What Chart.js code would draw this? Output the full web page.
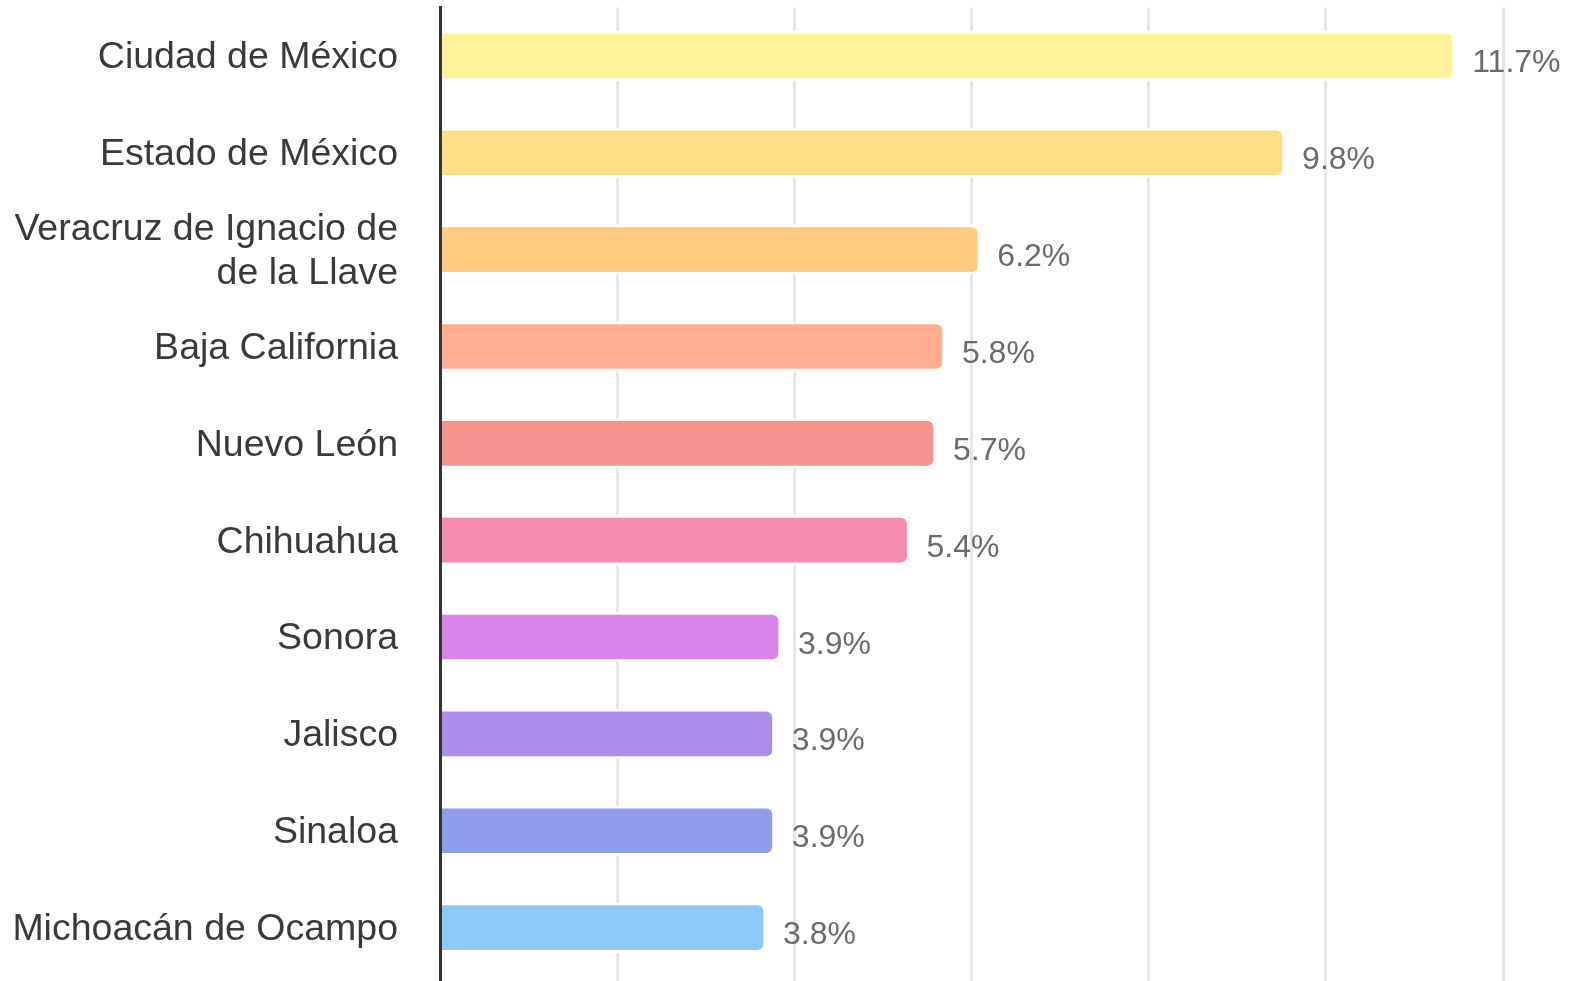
<!DOCTYPE html>
<html>
<head>
<meta charset="utf-8">
<script src="https://cdn.jsdelivr.net/npm/chart.js@4.4.1/dist/chart.umd.min.js"></script>
<style>
  html, body { margin: 0; padding: 0; background: #fff; }
  #wrap { width: 1572px; height: 981px; position: relative; }
</style>
</head>
<body>
<div id="wrap"><canvas id="c"></canvas></div>
<script>
// ---- data ----
const categories = [
  'Ciudad de México',
  'Estado de México',
  ['Veracruz de Ignacio de', 'de la Llave'],
  'Baja California',
  'Nuevo León',
  'Chihuahua',
  'Sonora',
  'Jalisco',
  'Sinaloa',
  'Michoacán de Ocampo'
];
const barValues = [11.46, 9.54, 6.10, 5.70, 5.60, 5.30, 3.85, 3.78, 3.78, 3.68];
const valueLabels = ['11.7%', '9.8%', '6.2%', '5.8%', '5.7%', '5.4%', '3.9%', '3.9%', '3.9%', '3.8%'];
const barColors = ['#FFF39A', '#FFDF85', '#FFCB80', '#FFAC91', '#F5948F', '#F78BAE', '#D883E8', '#AF8EEB', '#8F9EEB', '#8DCAFA'];
const axisMin = 0;
const axisMax = 12;
const axisStep = 2;

const FONT = '"Liberation Sans", Arial, sans-serif';

const valueLabelPlugin = {
  id: 'valueLabels',
  afterDatasetsDraw(chart) {
    const ctx = chart.ctx;
    const meta = chart.getDatasetMeta(0);
    ctx.save();
    ctx.font = '32px ' + FONT;
    ctx.fillStyle = '#6b6b6b';
    ctx.textAlign = 'left';
    ctx.textBaseline = 'alphabetic';
    meta.data.forEach((bar, i) => {
      ctx.fillText(valueLabels[i], bar.x + 17, bar.y + 16.5);
    });
    ctx.restore();
  }
};

new Chart(document.getElementById('c'), {
  type: 'bar',
  data: {
    labels: categories,
    datasets: [{
      data: barValues,
      backgroundColor: barColors,
      borderColor: '#ffffff',
      borderWidth: 3,
      borderSkipped: 'start',
      borderRadius: 9,
      barThickness: 50
    }]
  },
  options: {
    indexAxis: 'y',
    responsive: true,
    maintainAspectRatio: false,
    animation: false,
    layout: { padding: { top: 7.5, right: 69, bottom: 0, left: 0 } },
    plugins: {
      legend: { display: false },
      tooltip: { enabled: false }
    },
    scales: {
      x: {
        min: axisMin,
        max: axisMax,
        ticks: { display: false, stepSize: axisStep },
        grid: {
          color: (c) => (c.tick && c.tick.value === 0) ? '#333333' : '#e6e6e6',
          lineWidth: 3,
          drawTicks: true,
          tickLength: 5,
          tickColor: (c) => (c.tick && c.tick.value === 0) ? '#333333' : '#e6e6e6'
        },
        border: { display: false },
        afterFit: (scale) => { scale.paddingLeft = 0; scale.paddingRight = 0; }
      },
      y: {
        afterFit: (scale) => {
          scale.width = 440;
          scale.paddingTop = 0;
          scale.paddingBottom = 0;
        },
        ticks: {
          color: '#3a3a3a',
          padding: 42,
          labelOffset: 2,
          font: { family: FONT, size: 37.5, lineHeight: 1.17 },
          autoSkip: false
        },
        grid: { display: false, drawTicks: false, tickLength: 0 },
        border: { display: true, color: '#333333', width: 3, z: 1 }
      }
    }
  },
  plugins: [valueLabelPlugin]
});
</script>
</body>
</html>
